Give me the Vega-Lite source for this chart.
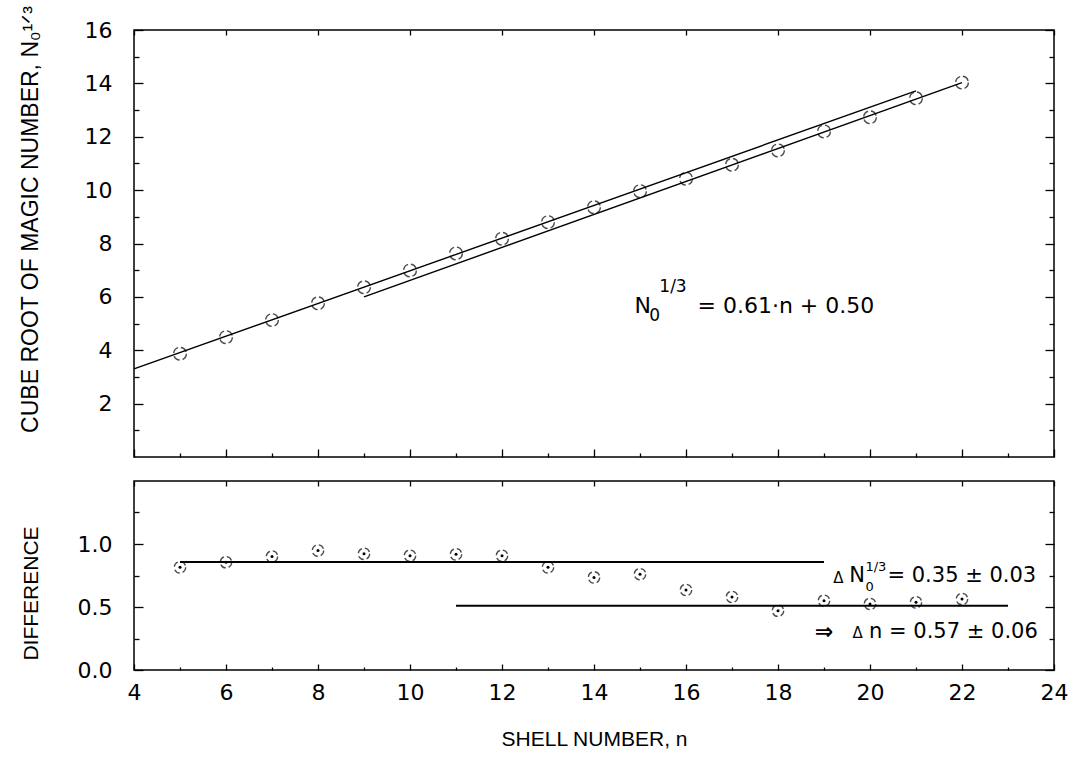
{
  "$schema": "https://vega.github.io/schema/vega-lite/v6.json",
  "padding": {"left": 18, "top": 4, "right": 5, "bottom": 5},
  "spacing": 20,
  "config": {
    "view": {"stroke": "black", "strokeWidth": 1.5},
    "font": "DejaVu Sans",
    "axis": {
      "domain": false,
      "grid": false,
      "labelFont": "DejaVu Sans",
      "labelFontSize": 22,
      "labelColor": "black",
      "tickColor": "black",
      "tickWidth": 1.3,
      "titleFont": "Liberation Sans",
      "titleFontSize": 21,
      "titleFontWeight": "normal",
      "titleColor": "black"
    }
  },
  "datasets": {
    "shells": [
      {"n": 5, "value": 3.87}, {"n": 6, "value": 4.49}, {"n": 7, "value": 5.13},
      {"n": 8, "value": 5.76}, {"n": 9, "value": 6.36}, {"n": 10, "value": 6.99},
      {"n": 11, "value": 7.63}, {"n": 12, "value": 8.18}, {"n": 13, "value": 8.8},
      {"n": 14, "value": 9.36}, {"n": 15, "value": 9.96}, {"n": 16, "value": 10.43},
      {"n": 17, "value": 10.95}, {"n": 18, "value": 11.49}, {"n": 19, "value": 12.2},
      {"n": 20, "value": 12.73}, {"n": 21, "value": 13.44}, {"n": 22, "value": 14.03}
    ],
    "fits": [
      {"line": "A", "n": 4, "value": 3.3},
      {"line": "A", "n": 21, "value": 13.72},
      {"line": "B", "n": 9, "value": 6.0},
      {"line": "B", "n": 22, "value": 14.03}
    ],
    "diffs": [
      {"n": 5, "diff": 0.815}, {"n": 6, "diff": 0.855}, {"n": 7, "diff": 0.9},
      {"n": 8, "diff": 0.948}, {"n": 9, "diff": 0.922}, {"n": 10, "diff": 0.907},
      {"n": 11, "diff": 0.918}, {"n": 12, "diff": 0.907}, {"n": 13, "diff": 0.815},
      {"n": 14, "diff": 0.735}, {"n": 15, "diff": 0.76}, {"n": 16, "diff": 0.635},
      {"n": 17, "diff": 0.58}, {"n": 18, "diff": 0.47}, {"n": 19, "diff": 0.55},
      {"n": 20, "diff": 0.524}, {"n": 21, "diff": 0.537}, {"n": 22, "diff": 0.563}
    ],
    "levels": [
      {"from": 5, "to": 19, "diff": 0.857},
      {"from": 11, "to": 23, "diff": 0.51}
    ],
    "notes": [
      {"panel": "top", "role": "main", "n": 14.88, "v": 5.67, "text": "N"},
      {"panel": "top", "role": "script", "n": 15.2, "v": 5.3, "text": "0"},
      {"panel": "top", "role": "script", "n": 15.42, "v": 6.38, "text": "1/3"},
      {"panel": "top", "role": "main", "n": 16.25, "v": 5.67, "text": "= 0.61·n + 0.50"},
      {"panel": "bottom", "role": "delta", "n": 19.2, "v": 0.728, "text": "Δ"},
      {"panel": "bottom", "role": "main", "n": 19.55, "v": 0.743, "text": "N"},
      {"panel": "bottom", "role": "script", "n": 19.9, "v": 0.66, "text": "0"},
      {"panel": "bottom", "role": "script", "n": 19.9, "v": 0.82, "text": "1/3"},
      {"panel": "bottom", "role": "main", "n": 20.38, "v": 0.743, "text": "= 0.35 ± 0.03"},
      {"panel": "bottom", "role": "arrow", "n": 18.8, "v": 0.299, "text": "⇒"},
      {"panel": "bottom", "role": "delta", "n": 19.62, "v": 0.291, "text": "Δ"},
      {"panel": "bottom", "role": "main", "n": 19.98, "v": 0.299, "text": "n = 0.57 ± 0.06"}
    ]
  },
  "vconcat": [
    {
      "width": 920,
      "height": 427,
      "resolve": {"axis": {"x": "independent", "y": "independent"}},
      "layer": [
        {
          "data": {"name": "fits"},
          "mark": {"type": "line", "color": "black", "strokeWidth": 1.4},
          "encoding": {
            "x": {"field": "n", "type": "quantitative", "scale": {"domain": [4, 24], "nice": false},
              "axis": {"orient": "bottom", "values": [4,5,6,7,8,9,10,11,12,13,14,15,16,17,18,19,20,21,22,23,24], "labels": false, "title": null,
                "tickSize": {"condition": {"test": "datum.value % 2 === 0", "value": -8}, "value": -4}}},
            "y": {"field": "value", "type": "quantitative", "scale": {"domain": [0, 16], "nice": false},
              "axis": {"orient": "left", "values": [1,2,3,4,5,6,7,8,9,10,11,12,13,14,15,16],
                "labelExpr": "datum.value % 2 === 0 ? datum.label : ''",
                "tickSize": {"condition": {"test": "datum.value % 2 === 0", "value": -9}, "value": -5},
                "labelPadding": 31,
                "titleFontSize": 23,
                "titleY": 189,
                "title": "CUBE ROOT OF MAGIC NUMBER, N₀¹ᐟ³", "titlePadding": 42}},
            "detail": {"field": "line", "type": "nominal"}
          }
        },
        {
          "data": {"name": "shells"},
          "mark": {"type": "point", "shape": "circle", "filled": false, "color": "black", "size": 160, "strokeWidth": 1.4, "strokeDash": [7, 3]},
          "encoding": {
            "x": {"field": "n", "type": "quantitative",
              "axis": {"orient": "top", "values": [4,6,8,10,12,14,16,18,20,22,24], "labels": false, "title": null, "tickSize": -5}},
            "y": {"field": "value", "type": "quantitative",
              "axis": {"orient": "right", "values": [1,2,3,4,5,6,7,8,9,10,11,12,13,14,15,16], "labels": false, "title": null,
                "tickSize": {"condition": {"test": "datum.value % 2 === 0", "value": -9}, "value": -5}}}
          }
        },
        {
          "data": {"name": "notes"},
          "transform": [{"filter": "datum.panel === 'top' && datum.role === 'main'"}],
          "mark": {"type": "text", "align": "left", "baseline": "middle", "font": "DejaVu Sans", "fontSize": 22, "color": "black"},
          "encoding": {
            "x": {"field": "n", "type": "quantitative", "axis": null},
            "y": {"field": "v", "type": "quantitative", "axis": null},
            "text": {"field": "text"}
          }
        },
        {
          "data": {"name": "notes"},
          "transform": [{"filter": "datum.panel === 'top' && datum.role === 'script'"}],
          "mark": {"type": "text", "align": "left", "baseline": "middle", "font": "DejaVu Sans", "fontSize": 17, "color": "black"},
          "encoding": {
            "x": {"field": "n", "type": "quantitative", "axis": null},
            "y": {"field": "v", "type": "quantitative", "axis": null},
            "text": {"field": "text"}
          }
        }
      ]
    },
    {
      "width": 920,
      "height": 189,
      "resolve": {"axis": {"x": "independent", "y": "independent"}},
      "layer": [
        {
          "data": {"name": "levels"},
          "mark": {"type": "rule", "color": "black", "strokeWidth": 1.8},
          "encoding": {
            "x": {"field": "from", "type": "quantitative", "scale": {"domain": [4, 24], "nice": false},
              "axis": {"orient": "bottom", "values": [4,5,6,7,8,9,10,11,12,13,14,15,16,17,18,19,20,21,22,23,24],
                "labelExpr": "datum.value % 2 === 0 ? datum.label : ''",
                "labelFlush": false,
                "tickSize": {"condition": {"test": "datum.value % 2 === 0", "value": -6}, "value": -3},
                "labelPadding": 18,
                "title": "SHELL NUMBER, n", "titlePadding": 25}},
            "x2": {"field": "to"},
            "y": {"field": "diff", "type": "quantitative", "scale": {"domain": [0, 1.5], "nice": false},
              "axis": {"orient": "left", "values": [0, 0.25, 0.5, 0.75, 1, 1.25],
                "labelExpr": "(datum.value * 2) % 1 === 0 ? format(datum.value, '.1f') : ''",
                "tickSize": {"condition": {"test": "(datum.value * 2) % 1 === 0", "value": -9}, "value": -5},
                "labelPadding": 31,
                "titleY": 112,
                "title": "DIFFERENCE", "titlePadding": 36}}
          }
        },
        {
          "data": {"name": "diffs"},
          "mark": {"type": "point", "shape": "circle", "filled": false, "color": "black", "size": 130, "strokeWidth": 1.3, "strokeDash": [6, 3]},
          "encoding": {
            "x": {"field": "n", "type": "quantitative",
              "axis": {"orient": "top", "values": [4,6,8,10,12,14,16,18,20,22,24], "labels": false, "title": null, "tickSize": -5}},
            "y": {"field": "diff", "type": "quantitative",
              "axis": {"orient": "right", "values": [0, 0.25, 0.5, 0.75, 1, 1.25], "labels": false, "title": null,
                "tickSize": {"condition": {"test": "(datum.value * 2) % 1 === 0", "value": -9}, "value": -5}}}
          }
        },
        {
          "data": {"name": "diffs"},
          "mark": {"type": "point", "shape": "circle", "filled": true, "color": "black", "opacity": 1, "size": 9},
          "encoding": {
            "x": {"field": "n", "type": "quantitative", "axis": null},
            "y": {"field": "diff", "type": "quantitative", "axis": null}
          }
        },
        {
          "data": {"name": "notes"},
          "transform": [{"filter": "datum.panel === 'bottom' && datum.role === 'main'"}],
          "mark": {"type": "text", "align": "left", "baseline": "middle", "font": "DejaVu Sans", "fontSize": 21, "color": "black"},
          "encoding": {
            "x": {"field": "n", "type": "quantitative", "axis": null},
            "y": {"field": "v", "type": "quantitative", "axis": null},
            "text": {"field": "text"}
          }
        },
        {
          "data": {"name": "notes"},
          "transform": [{"filter": "datum.panel === 'bottom' && datum.role === 'script'"}],
          "mark": {"type": "text", "align": "left", "baseline": "middle", "font": "DejaVu Sans", "fontSize": 13, "color": "black"},
          "encoding": {
            "x": {"field": "n", "type": "quantitative", "axis": null},
            "y": {"field": "v", "type": "quantitative", "axis": null},
            "text": {"field": "text"}
          }
        },
        {
          "data": {"name": "notes"},
          "transform": [{"filter": "datum.panel === 'bottom' && datum.role === 'delta'"}],
          "mark": {"type": "text", "align": "left", "baseline": "middle", "font": "DejaVu Sans", "fontSize": 15, "color": "black"},
          "encoding": {
            "x": {"field": "n", "type": "quantitative", "axis": null},
            "y": {"field": "v", "type": "quantitative", "axis": null},
            "text": {"field": "text"}
          }
        },
        {
          "data": {"name": "notes"},
          "transform": [{"filter": "datum.panel === 'bottom' && datum.role === 'arrow'"}],
          "mark": {"type": "text", "align": "left", "baseline": "middle", "font": "DejaVu Sans", "fontSize": 22, "fontWeight": "bold", "color": "black"},
          "encoding": {
            "x": {"field": "n", "type": "quantitative", "axis": null},
            "y": {"field": "v", "type": "quantitative", "axis": null},
            "text": {"field": "text"}
          }
        }
      ]
    }
  ]
}
